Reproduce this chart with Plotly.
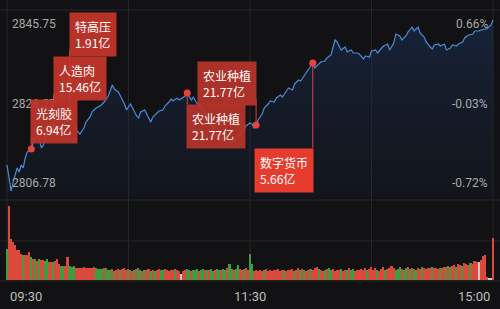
import plotly.graph_objects as go

# ---------------- data ----------------
minutes = [0,1,2,3,4,5,6,7,8,9,10,11,12,13,14,15,16,17,18,19,20,21,22,23,25,27,29,31,33,35,36,38,39,41,42,44,46,48,50,51,52,53,55,56,58,59,61,62,64,65,66,68,69,71,72,74,75,77,78,80,81,82,84,85,87,88,89,91,92,94,95,97,99,101,103,105,107,109,111,113,115,117,118,120,121,122,123,124,126,127,129,130,132,133,135,136,138,139,141,142,144,145,147,148,150,151,152,154,155,157,158,160,161,162,163,164,165,167,168,170,171,173,174,176,177,179,180,182,183,185,186,188,189,191,192,194,195,197,198,200,201,203,204,206,207,209,210,211,213,214,216,217,219,220,222,223,225,226,228,230,231,233,234,236,237,239,240]
prices = [2813.62,2810.51,2808.23,2810.09,2811.34,2813.00,2812.17,2813.62,2813.00,2815.07,2816.31,2816.73,2816.94,2818.39,2819.22,2819.63,2818.80,2817.14,2817.76,2819.42,2820.25,2819.84,2820.87,2821.29,2821.70,2821.50,2822.53,2823.36,2822.12,2820.46,2820.05,2821.29,2822.53,2823.57,2824.61,2825.43,2825.85,2826.68,2827.92,2829.17,2830.20,2829.37,2828.75,2827.92,2826.26,2825.02,2826.26,2825.43,2823.78,2823.36,2824.61,2825.02,2824.19,2822.53,2823.57,2824.40,2824.81,2825.02,2825.85,2826.68,2827.30,2826.88,2827.51,2827.09,2827.71,2827.92,2828.55,2827.09,2827.71,2826.26,2825.85,2825.02,2823.36,2821.70,2820.25,2819.22,2818.59,2818.18,2818.18,2819.01,2820.05,2820.87,2821.70,2822.33,2822.12,2821.29,2821.91,2822.95,2824.19,2825.43,2826.26,2826.88,2826.68,2827.51,2828.13,2827.71,2828.96,2829.58,2829.17,2830.41,2831.24,2831.03,2832.28,2832.90,2834.14,2834.76,2833.73,2834.56,2834.97,2835.18,2835.80,2836.42,2837.87,2839.53,2839.12,2838.29,2837.46,2838.08,2837.04,2837.46,2836.84,2836.84,2836.63,2835.59,2836.22,2836.01,2837.25,2837.46,2836.84,2837.87,2838.29,2838.70,2837.46,2838.91,2840.77,2840.36,2839.53,2840.36,2841.19,2842.23,2841.40,2842.23,2840.98,2840.15,2839.12,2838.08,2837.67,2838.49,2838.70,2838.29,2838.70,2837.46,2837.87,2838.49,2838.29,2838.70,2839.12,2839.95,2840.57,2840.77,2841.40,2841.40,2841.60,2841.81,2841.81,2842.64,2843.68]

volume = [31,74,41,38,35,30,30,26,25,25,25,28,23,21,21,19,21,20,20,19,
          21,18,18,18,19,21,16,14,14,14,23,14,13,14,12,12,12,12,13,12,
          12,12,12,13,12,11,11,11,12,12,10,10,11,9,10,11,10,11,12,10,
          11,10,9,10,11,12,10,9,10,10,11,9,10,9,10,11,10,10,11,10,
          9,10,10,11,10,9,6,9,10,11,10,9,10,10,11,9,10,11,10,10,
          10,11,9,10,11,10,10,11,10,12,16,11,10,11,15,11,10,11,12,10,
          26,16,9,10,9,10,9,10,11,9,10,9,10,10,11,9,10,10,9,10,
          10,11,9,10,12,10,11,10,9,10,11,10,12,13,11,10,9,10,11,12,
          10,11,9,10,10,11,9,10,10,12,10,11,9,10,10,11,10,12,10,11,
          13,10,12,10,9,11,13,10,11,12,14,12,10,11,13,11,10,12,13,11,
          12,11,10,12,11,13,12,11,12,12,13,12,12,11,12,12,13,13,14,13,
          14,15,13,16,15,14,17,16,15,17,16,19,18,18,20,24,25,3,2,2,42]
volume_dir = ("grrrrrrrgrrrgrgrgrrg"
              "grrgrrrggrrgggrrrrrr"
              "rrrrggggrgggrgrrgrrr"
              "grrgrggrgrrgrgrrggrr"
              "rrrgrrnrrggrgggrggrg"
              "rggrggrggrggrggrrgrr"
              "ggrrrrrgrrrrrrrrrgrr"
              "rrgrrgrgrrgrrrgrrgrg"
              "grrrrgrrgrggrrrrrrgr"
              "rrrgrrrgrrrrgggrggrg"
              "rggrrgrrrrgrrrgrrgrg"
              "rrgrrgrrrgrrrnrrrrnnr")

price_ticks = [2845.75, 2826.27, 2806.78]
pct_labels = ["0.66%", "-0.03%", "-0.72%"]
time_ticks = [0, 120, 240]
time_labels = ["09:30", "11:30", "15:00"]

event_names = ["特高压", "人造肉", "光刻胶", "农业种植", "农业种植", "数字货币"]
event_amounts = ["1.91亿", "15.46亿", "6.94亿", "21.77亿", "21.77亿", "5.66亿"]
event_minutes = [31, 23, 12, 123, 89, 151]

# ---------------- layout constants ----------------
W, H = 500, 309
BG = "#121214"
GRID = "#26272a"
PRICE_TOP_PX, PRICE_BOT_PX = 10, 198
VOL_TOP_PX, VOL_BOT_PX = 202, 280
X_LEFT_PX, X_RIGHT_PX = 7, 493
N_MIN = 240
px_per_min = (X_RIGHT_PX - X_LEFT_PX) / N_MIN
x_range = [-X_LEFT_PX / px_per_min, N_MIN + (W - X_RIGHT_PX) / px_per_min]

price_dom = [1 - PRICE_BOT_PX / H, 1 - PRICE_TOP_PX / H]
vol_dom = [1 - VOL_BOT_PX / H, 1 - VOL_TOP_PX / H]
p_lo, p_hi = price_ticks[2], price_ticks[0]
vol_range = [0, VOL_BOT_PX - VOL_TOP_PX]


def px_to_price(ypx):
    return p_hi - (ypx - PRICE_TOP_PX) / (PRICE_BOT_PX - PRICE_TOP_PX) * (p_hi - p_lo)


def py(ypx):
    return 1 - ypx / H


# callout boxes: (box top px, side of the line the box sits on)
box_layout = [(12, "left"), (56, "left"), (99, "left"), (61, "right"), (104, "left"), (148, "right")]
box_colors = ["rgba(196,54,44,0.93)", "rgba(196,54,44,0.93)", "rgba(190,52,42,0.93)",
              "rgba(184,52,42,0.93)", "rgba(184,52,42,0.93)", "rgba(236,62,46,0.97)"]
BOX_H = 38

price_at = dict(zip(minutes, prices))

fig = go.Figure()

# fill base
fig.add_trace(go.Scatter(x=[minutes[0], minutes[-1]], y=[p_lo, p_lo], mode="lines",
                         line=dict(width=0), hoverinfo="skip", showlegend=False))
fig.add_trace(go.Scatter(x=minutes, y=prices, mode="lines",
                         line=dict(color="#4a8bd6", width=1.2),
                         fill="tonexty",
                         fillgradient=dict(type="vertical",
                                           colorscale=[[0, "rgba(20,35,60,0.2)"], [1, "rgba(28,52,95,0.5)"]]),
                         hoverinfo="skip", showlegend=False))

# event dots
fig.add_trace(go.Scatter(x=event_minutes, y=[price_at[m] for m in event_minutes], mode="markers",
                         marker=dict(color="#e8453a", size=7), hoverinfo="skip", showlegend=False))

# volume bars
cmap = {"r": "#d94a3d", "g": "#3e9d3e", "n": "#c9c9c9"}
fig.add_trace(go.Bar(x=list(range(len(volume))), y=volume, xaxis="x2", yaxis="y2",
                     marker=dict(color=[cmap[c] for c in volume_dir], line=dict(width=0)),
                     width=0.78, hoverinfo="skip", showlegend=False))

shapes = []
# horizontal grid lines
for ypx in [PRICE_TOP_PX, 200, 241, VOL_BOT_PX + 1]:
    shapes.append(dict(type="line", xref="paper", yref="paper", x0=0, x1=1, y0=py(ypx), y1=py(ypx),
                       line=dict(color=GRID, width=1), layer="below"))
# vertical grid lines
for m in [0, 60, 120, 180, 240]:
    shapes.append(dict(type="line", xref="x", yref="paper", x0=m, x1=m, y0=py(VOL_BOT_PX + 1), y1=py(0),
                       line=dict(color=GRID, width=1), layer="below"))

annotations = []

# price axis labels (drawn first so the callout boxes sit on top of them)
lab_font = dict(family="Roboto", size=12, color="#a9a9a9")
anchors = ["top", "middle", "bottom"]
shifts = [-5, 0, 6]
for t, pl, a, s in zip(price_ticks, pct_labels, anchors, shifts):
    annotations.append(dict(x=0.02, y=t, xref="paper", yref="y", xanchor="left", yanchor=a, yshift=s,
                            text=f"{t:.2f}", showarrow=False, font=lab_font))
    annotations.append(dict(x=0.98, y=t, xref="paper", yref="y", xanchor="right", yanchor=a, yshift=s,
                            text=pl, showarrow=False, font=lab_font))

# connector lines + boxes
for name, amt, m, (top, side), col in zip(event_names, event_amounts, event_minutes, box_layout, box_colors):
    p = price_at[m]
    box_bot = top + BOX_H
    dot_px = PRICE_TOP_PX + (p_hi - p) / (p_hi - p_lo) * (PRICE_BOT_PX - PRICE_TOP_PX)
    edge = box_bot if box_bot < dot_px else top
    shapes.append(dict(type="line", xref="x", yref="y", x0=m, x1=m, y0=p, y1=px_to_price(edge),
                       line=dict(color="#d8473a", width=1), layer="above"))
    annotations.append(dict(x=m, y=py(top), xref="x", yref="paper",
                            xanchor=side, yanchor="top", xshift=-1 if side == "left" else 1,
                            text=f"{name}<br>{amt}", showarrow=False, align="left",
                            bgcolor=col, borderpad=5,
                            font=dict(family="Noto Sans CJK SC", size=12, color="#ffffff")))

# time labels
t_font = dict(family="Roboto", size=13, color="#bdbdbd")
for tm, tl, xa, xs in zip(time_ticks, time_labels, ["left", "center", "right"], [1, 0, -1]):
    annotations.append(dict(x=tm, y=py(296), xref="x", yref="paper", xanchor=xa, yanchor="middle",
                            xshift=xs, text=tl, showarrow=False, font=t_font))

fig.update_layout(
    width=W, height=H, margin=dict(l=0, r=0, t=0, b=0),
    paper_bgcolor=BG, plot_bgcolor=BG,
    xaxis=dict(domain=[0, 1], range=x_range, visible=False, anchor="y"),
    yaxis=dict(domain=price_dom, range=[p_lo, p_hi], visible=False, anchor="x"),
    xaxis2=dict(domain=[0, 1], range=x_range, visible=False, anchor="y2", matches="x"),
    yaxis2=dict(domain=vol_dom, range=vol_range, visible=False, anchor="x2"),
    shapes=shapes, annotations=annotations, bargap=0, showlegend=False,
)

fig.write_html("out.html")
